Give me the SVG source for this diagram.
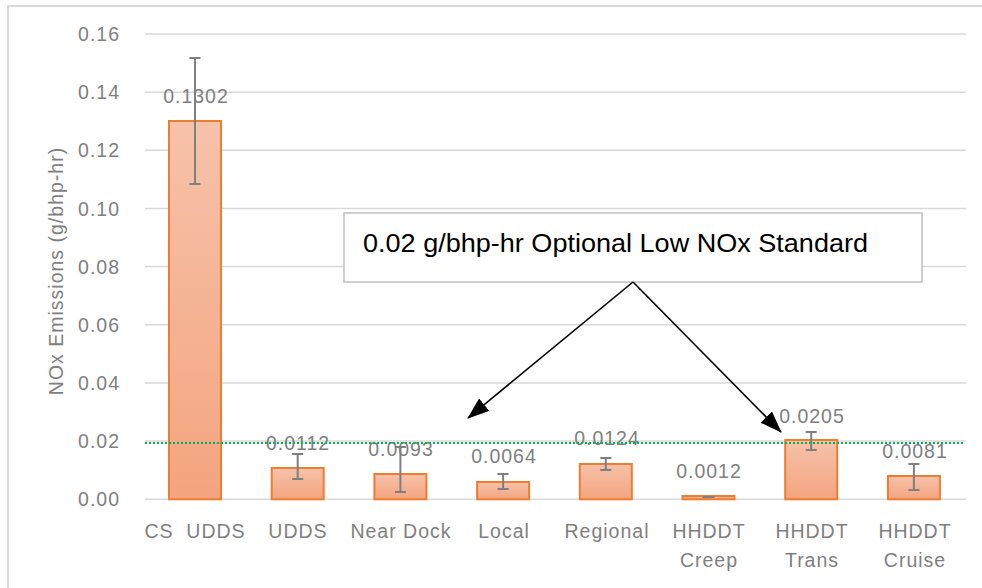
<svg xmlns="http://www.w3.org/2000/svg" width="982" height="588" viewBox="0 0 982 588">
<style>
.t{font-family:"Liberation Sans",Arial,sans-serif;font-size:19.5px;fill:#7f7f7f;letter-spacing:1px}
.tick{text-anchor:end}
.lbl{text-anchor:middle}
.grid{stroke:#d9d9d9;stroke-width:1.5}
.bar{fill:url(#bg);stroke:#ed7d31;stroke-width:2}
.err{stroke:#7f7f7f;stroke-width:2;fill:none}
.arr{stroke:#000;stroke-width:1.6;fill:none;marker-end:url(#ah)}
</style>
<defs>
<linearGradient id="bg" x1="0" y1="0" x2="0" y2="1">
<stop offset="0" stop-color="#f6c2aa"/>
<stop offset="1" stop-color="#f4a47f"/>
</linearGradient>
<marker id="ah" markerWidth="22" markerHeight="16" refX="21" refY="8" orient="auto" markerUnits="userSpaceOnUse" viewBox="0 0 22 16">
<path d="M0,0 L22,8 L0,16 Z" fill="#000"/>
</marker>
</defs>
<rect x="0" y="0" width="982" height="588" fill="#fff"/>
<rect x="8" y="6" width="990" height="600" fill="none" stroke="#d9d9d9" stroke-width="2"/>
<g id="grid">
<line class="grid" x1="145" y1="34" x2="966" y2="34"/>
<line class="grid" x1="145" y1="92.2" x2="966" y2="92.2"/>
<line class="grid" x1="145" y1="150.3" x2="966" y2="150.3"/>
<line class="grid" x1="145" y1="208.5" x2="966" y2="208.5"/>
<line class="grid" x1="145" y1="266.6" x2="966" y2="266.6"/>
<line class="grid" x1="145" y1="324.8" x2="966" y2="324.8"/>
<line class="grid" x1="145" y1="383" x2="966" y2="383"/>
<line class="grid" x1="145" y1="441.1" x2="966" y2="441.1"/>
<line class="grid" x1="145" y1="499.3" x2="966" y2="499.3" stroke-width="2"/>
</g>
<g id="yticks" class="t tick">
<text x="120" y="41">0.16</text>
<text x="120" y="99">0.14</text>
<text x="120" y="157">0.12</text>
<text x="120" y="215.5">0.10</text>
<text x="120" y="273.5">0.08</text>
<text x="120" y="332">0.06</text>
<text x="120" y="390">0.04</text>
<text x="120" y="448">0.02</text>
<text x="120" y="506">0.00</text>
</g>
<text class="t lbl" x="63" y="271" transform="rotate(-90 63 271)">NOx Emissions (g/bhp-hr)</text>
<g id="bar-cs-udds">
<rect class="bar" x="169" y="121" width="52" height="378.3"/>
<path class="err" d="M195,58 V184 M189.5,58 H200.5 M189.5,184 H200.5"/>
<text class="t lbl" x="196" y="103">0.1302</text>
<text class="t lbl" x="195" y="538" style="white-space:pre">CS  UDDS</text>
</g>
<g id="bar-udds">
<rect class="bar" x="271.7" y="468" width="52" height="31.3"/>
<path class="err" d="M297.7,454 V479 M292.2,454 H303.2 M292.2,479 H303.2"/>
<text class="t lbl" x="298" y="450">0.0112</text>
<text class="t lbl" x="298" y="538">UDDS</text>
</g>
<g id="bar-near-dock">
<rect class="bar" x="374.4" y="474" width="52" height="25.3"/>
<path class="err" d="M400.4,447 V492 M394.9,447 H405.9 M394.9,492 H405.9"/>
<text class="t lbl" x="401" y="456">0.0093</text>
<text class="t lbl" x="401" y="538">Near Dock</text>
</g>
<g id="bar-local">
<rect class="bar" x="477.1" y="482" width="52" height="17.3"/>
<path class="err" d="M503.1,474 V489 M497.6,474 H508.6 M497.6,489 H508.6"/>
<text class="t lbl" x="504" y="463">0.0064</text>
<text class="t lbl" x="504" y="538">Local</text>
</g>
<g id="bar-regional">
<rect class="bar" x="579.8" y="464" width="52" height="35.3"/>
<path class="err" d="M605.8,458 V470 M600.3,458 H611.3 M600.3,470 H611.3"/>
<text class="t lbl" x="607" y="445">0.0124</text>
<text class="t lbl" x="607" y="538">Regional</text>
</g>
<g id="bar-hhddt-creep">
<rect class="bar" x="682.5" y="496" width="52" height="3.3"/>
<path class="err" d="M702.5,497 H714.5"/>
<text class="t lbl" x="709" y="478">0.0012</text>
<text class="t lbl" x="709" y="538">HHDDT</text>
<text class="t lbl" x="709" y="567">Creep</text>
</g>
<g id="bar-hhddt-trans">
<rect class="bar" x="785.2" y="440" width="52" height="59.3"/>
<path class="err" d="M811.2,432 V450 M805.7,432 H816.7 M805.7,450 H816.7"/>
<text class="t lbl" x="812" y="423">0.0205</text>
<text class="t lbl" x="812" y="538">HHDDT</text>
<text class="t lbl" x="812" y="567">Trans</text>
</g>
<g id="bar-hhddt-cruise">
<rect class="bar" x="887.9" y="476" width="52" height="23.3"/>
<path class="err" d="M913.9,464 V490 M908.4,464 H919.4 M908.4,490 H919.4"/>
<text class="t lbl" x="915" y="458">0.0081</text>
<text class="t lbl" x="915" y="538">HHDDT</text>
<text class="t lbl" x="915" y="567">Cruise</text>
</g>
<line id="standard-line" x1="145" y1="443" x2="964" y2="443" stroke="#00b050" stroke-width="2" stroke-dasharray="2,2"/>
<g id="annotation">
<rect x="344" y="213" width="578" height="69" fill="#fff" stroke="#bfbfbf" stroke-width="1.5"/>
<text x="363" y="252" font-family="Liberation Sans, Arial, sans-serif" font-size="26" fill="#000" textLength="505" lengthAdjust="spacingAndGlyphs">0.02 g/bhp-hr Optional Low NOx Standard</text>
</g>
<g id="connectors">
<line class="arr" x1="633" y1="282" x2="468" y2="418"/>
<line class="arr" x1="633" y1="282" x2="781" y2="432"/>
</g>
</svg>
